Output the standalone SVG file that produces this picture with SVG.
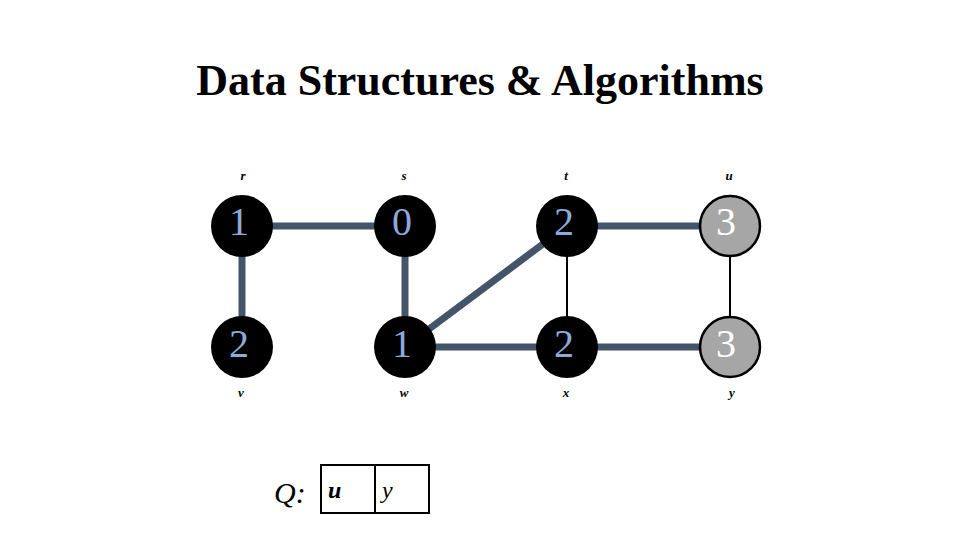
<svg xmlns="http://www.w3.org/2000/svg" width="960" height="540" viewBox="0 0 960 540">
<style>
.title{font-family:"Liberation Serif",serif;font-weight:bold;font-size:44px;fill:#000}
text.lbl{font-family:"Liberation Serif",serif;font-style:italic;font-weight:bold;font-size:13px;fill:#000}
.num{font-family:"Liberation Serif",serif;font-size:40px}
.blk circle{fill:#000}
.blk text.num{fill:#8eaadb}
.gry circle{fill:#a6a6a6;stroke:#000;stroke-width:2.5}
.gry text.num{fill:#fff}
.thick{stroke:#44546a;stroke-width:7;fill:none}
.thin{stroke:#000;stroke-width:2;fill:none}
.q{font-family:"Liberation Serif",serif;font-style:italic;font-size:30px;fill:#000}
</style>
<rect width="960" height="540" fill="#fff"/>
<text class="title" x="480" y="95" text-anchor="middle">Data Structures &amp; Algorithms</text>
<g id="edges">
<line class="thick" x1="242" y1="226" x2="405" y2="226"/>
<line class="thick" x1="242" y1="226" x2="242" y2="347"/>
<line class="thick" x1="405" y1="226" x2="405" y2="347"/>
<line class="thick" x1="405" y1="347" x2="567" y2="226"/>
<line class="thick" x1="405" y1="347" x2="567" y2="347"/>
<line class="thick" x1="567" y1="347" x2="730" y2="347"/>
<line class="thick" x1="567" y1="226" x2="730" y2="226"/>
<line class="thin" x1="567" y1="226" x2="567" y2="347"/>
<line class="thin" x1="730" y1="226" x2="730" y2="347"/>
</g>
<g id="node-r" class="blk"><circle cx="242" cy="226" r="31"/><text class="num" x="239" y="235" text-anchor="middle">1</text><text class="lbl" x="243" y="180" text-anchor="middle">r</text></g>
<g id="node-s" class="blk"><circle cx="405" cy="226" r="31"/><text class="num" x="402" y="235" text-anchor="middle">0</text><text class="lbl" x="404" y="180" text-anchor="middle">s</text></g>
<g id="node-t" class="blk"><circle cx="567" cy="226" r="31"/><text class="num" x="564" y="235" text-anchor="middle">2</text><text class="lbl" x="566" y="180" text-anchor="middle">t</text></g>
<g id="node-u" class="gry"><circle cx="730" cy="226" r="30"/><text class="num" x="726" y="235" text-anchor="middle">3</text><text class="lbl" x="729" y="180" text-anchor="middle">u</text></g>
<g id="node-v" class="blk"><circle cx="242" cy="347" r="31"/><text class="num" x="239" y="357" text-anchor="middle">2</text><text class="lbl" x="241" y="397" text-anchor="middle">v</text></g>
<g id="node-w" class="blk"><circle cx="405" cy="347" r="31"/><text class="num" x="402" y="357" text-anchor="middle">1</text><text class="lbl" x="404" y="397" text-anchor="middle">w</text></g>
<g id="node-x" class="blk"><circle cx="567" cy="347" r="31"/><text class="num" x="564" y="357" text-anchor="middle">2</text><text class="lbl" x="566" y="397" text-anchor="middle">x</text></g>
<g id="node-y" class="gry"><circle cx="730" cy="347" r="30"/><text class="num" x="726" y="357" text-anchor="middle">3</text><text class="lbl" x="732" y="397" text-anchor="middle">y</text></g>
<g id="queue">
<text class="q" x="274" y="503">Q:</text>
<rect x="321" y="465" width="108" height="48" fill="none" stroke="#000" stroke-width="2"/>
<line x1="375" y1="465" x2="375" y2="513" stroke="#000" stroke-width="2"/>
<text class="q" x="328" y="498" style="font-size:24px;font-weight:bold">u</text>
<text class="q" x="382" y="498" style="font-size:24px">y</text>
</g>
</svg>
